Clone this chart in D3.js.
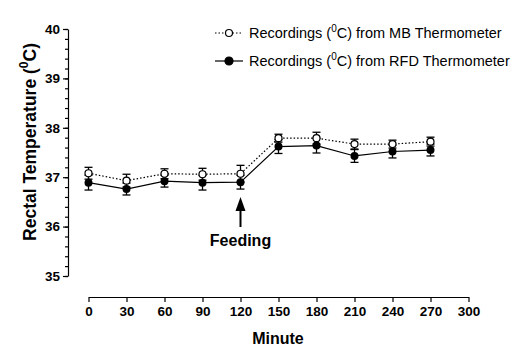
<!DOCTYPE html>
<html>
<head>
<meta charset="utf-8">
<script src="https://cdn.jsdelivr.net/npm/d3@7"></script>
<style>
  body { margin: 0; background: #fff; }
  svg { display: block; font-family: Arial, "Liberation Sans", sans-serif; }
  .axis path, .axis line { stroke: #000; stroke-width: 1.2; }
  .axis text { font-size: 13.5px; font-weight: bold; fill: #000; font-family: Arial, "Liberation Sans", sans-serif; }
</style>
</head>
<body>
<div id="chart"></div>
<script>
// data
var minutes = [0, 30, 60, 90, 120, 150, 180, 210, 240, 270];
var mbTemp  = [37.08, 36.93, 37.07, 37.06, 37.07, 37.79, 37.79, 37.67, 37.67, 37.72];
var mbErr   = [0.12, 0.13, 0.10, 0.12, 0.17, 0.08, 0.12, 0.10, 0.08, 0.09];
var rfdTemp = [36.89, 36.76, 36.92, 36.89, 36.90, 37.62, 37.64, 37.43, 37.52, 37.55];
var rfdErr  = [0.15, 0.12, 0.12, 0.15, 0.14, 0.14, 0.15, 0.13, 0.13, 0.12];
var xTicks = [0, 30, 60, 90, 120, 150, 180, 210, 240, 270, 300];
var yTicks = [35, 36, 37, 38, 39, 40];
var feedingAt = 120;

var width = 511, height = 352;

var svg = d3.select('#chart').append('svg')
    .attr('width', width)
    .attr('height', height);

var xScale = d3.scaleLinear().domain([0, 300]).range([88.5, 468.5]);
var yScale = d3.scaleLinear().domain([35, 40]).range([276, 29]);

// y axis with minor ticks
var yMinor = d3.range(35, 40.001, 0.2);
svg.append('g')
    .attr('class', 'axis')
    .attr('transform', 'translate(68,0)')
    .call(d3.axisLeft(yScale).tickValues(yMinor).tickSize(3).tickFormat(''))
    .select('.domain').remove();

svg.append('g')
    .attr('class', 'axis y-axis')
    .attr('transform', 'translate(68,0)')
    .call(d3.axisLeft(yScale).tickValues(yTicks).tickSize(5).tickSizeOuter(0).tickPadding(3).tickFormat(d3.format('d')));

svg.append('g')
    .attr('class', 'axis x-axis')
    .attr('transform', 'translate(0,297)')
    .call(d3.axisBottom(xScale).tickValues(xTicks).tickSize(5).tickSizeOuter(0).tickPadding(4));

// axis titles
var yTitle = svg.append('text')
    .attr('transform', 'translate(36,142) rotate(-90)')
    .attr('text-anchor', 'middle')
    .style('font-size', '17.5px')
    .style('font-weight', 'bold');
yTitle.append('tspan').text('Rectal Temperature (');
yTitle.append('tspan').attr('dy', -8).style('font-size', '12px').text('0');
yTitle.append('tspan').attr('dy', 8).text('C)');

svg.append('text')
    .attr('x', 278)
    .attr('y', 344)
    .attr('text-anchor', 'middle')
    .style('font-size', '16px')
    .style('font-weight', 'bold')
    .text('Minute');

var mbData = minutes.map(function(m, i) { return { x: m, y: mbTemp[i], e: mbErr[i] }; });
var rfdData = minutes.map(function(m, i) { return { x: m, y: rfdTemp[i], e: rfdErr[i] }; });

var line = d3.line()
    .x(function(d) { return xScale(d.x); })
    .y(function(d) { return yScale(d.y); });

function drawErrors(data) {
    var g = svg.append('g').attr('stroke', '#000').attr('stroke-width', 1.3);
    data.forEach(function(d) {
        var cx = xScale(d.x);
        g.append('line')
            .attr('x1', cx).attr('x2', cx)
            .attr('y1', yScale(d.y - d.e)).attr('y2', yScale(d.y + d.e));
        [d.y - d.e, d.y + d.e].forEach(function(v) {
            g.append('line')
                .attr('x1', cx - 4).attr('x2', cx + 4)
                .attr('y1', yScale(v)).attr('y2', yScale(v));
        });
    });
}

// RFD series
drawErrors(rfdData);
svg.append('path')
    .datum(rfdData)
    .attr('fill', 'none')
    .attr('stroke', '#000')
    .attr('stroke-width', 1.2)
    .attr('d', line);
svg.selectAll('.rfd-pt')
    .data(rfdData)
    .enter().append('circle')
    .attr('class', 'rfd-pt')
    .attr('cx', function(d) { return xScale(d.x); })
    .attr('cy', function(d) { return yScale(d.y); })
    .attr('r', 4)
    .attr('fill', '#000');

// MB series
drawErrors(mbData);
svg.append('path')
    .datum(mbData)
    .attr('fill', 'none')
    .attr('stroke', '#000')
    .attr('stroke-width', 1.2)
    .attr('stroke-dasharray', '1.5,2')
    .attr('d', line);
svg.selectAll('.mb-pt')
    .data(mbData)
    .enter().append('circle')
    .attr('class', 'mb-pt')
    .attr('cx', function(d) { return xScale(d.x); })
    .attr('cy', function(d) { return yScale(d.y); })
    .attr('r', 3.5)
    .attr('fill', '#fff')
    .attr('stroke', '#000')
    .attr('stroke-width', 1.2);

// feeding arrow
var ax = xScale(feedingAt);
svg.append('line')
    .attr('x1', ax).attr('x2', ax)
    .attr('y1', 208).attr('y2', 227)
    .attr('stroke', '#000')
    .attr('stroke-width', 2);
svg.append('path')
    .attr('d', 'M' + ax + ',197 L' + (ax - 5) + ',211 L' + (ax + 5) + ',211 Z')
    .attr('fill', '#000');
svg.append('text')
    .attr('x', ax)
    .attr('y', 246)
    .attr('text-anchor', 'middle')
    .style('font-size', '16px')
    .style('font-weight', 'bold')
    .text('Feeding');

// legend
var legend = [
    { label: ' from MB Thermometer', dash: '1.5,2', fill: '#fff', r: 3.5, y: 33 },
    { label: ' from RFD Thermometer', dash: null, fill: '#000', r: 4, y: 61 }
];
legend.forEach(function(l) {
    svg.append('line')
        .attr('x1', 215).attr('x2', 243)
        .attr('y1', l.y).attr('y2', l.y)
        .attr('stroke', '#000')
        .attr('stroke-width', 1.2)
        .attr('stroke-dasharray', l.dash);
    svg.append('circle')
        .attr('cx', 229).attr('cy', l.y)
        .attr('r', l.r)
        .attr('fill', l.fill)
        .attr('stroke', '#000')
        .attr('stroke-width', 1.2);
    var t = svg.append('text')
        .attr('x', 249)
        .attr('y', l.y + 5)
        .style('font-size', '14.5px');
    t.append('tspan').text('Recordings (');
    t.append('tspan').attr('dy', -6).style('font-size', '10px').text('0');
    t.append('tspan').attr('dy', 6).text('C)' + l.label);
});
</script>
</body>
</html>
